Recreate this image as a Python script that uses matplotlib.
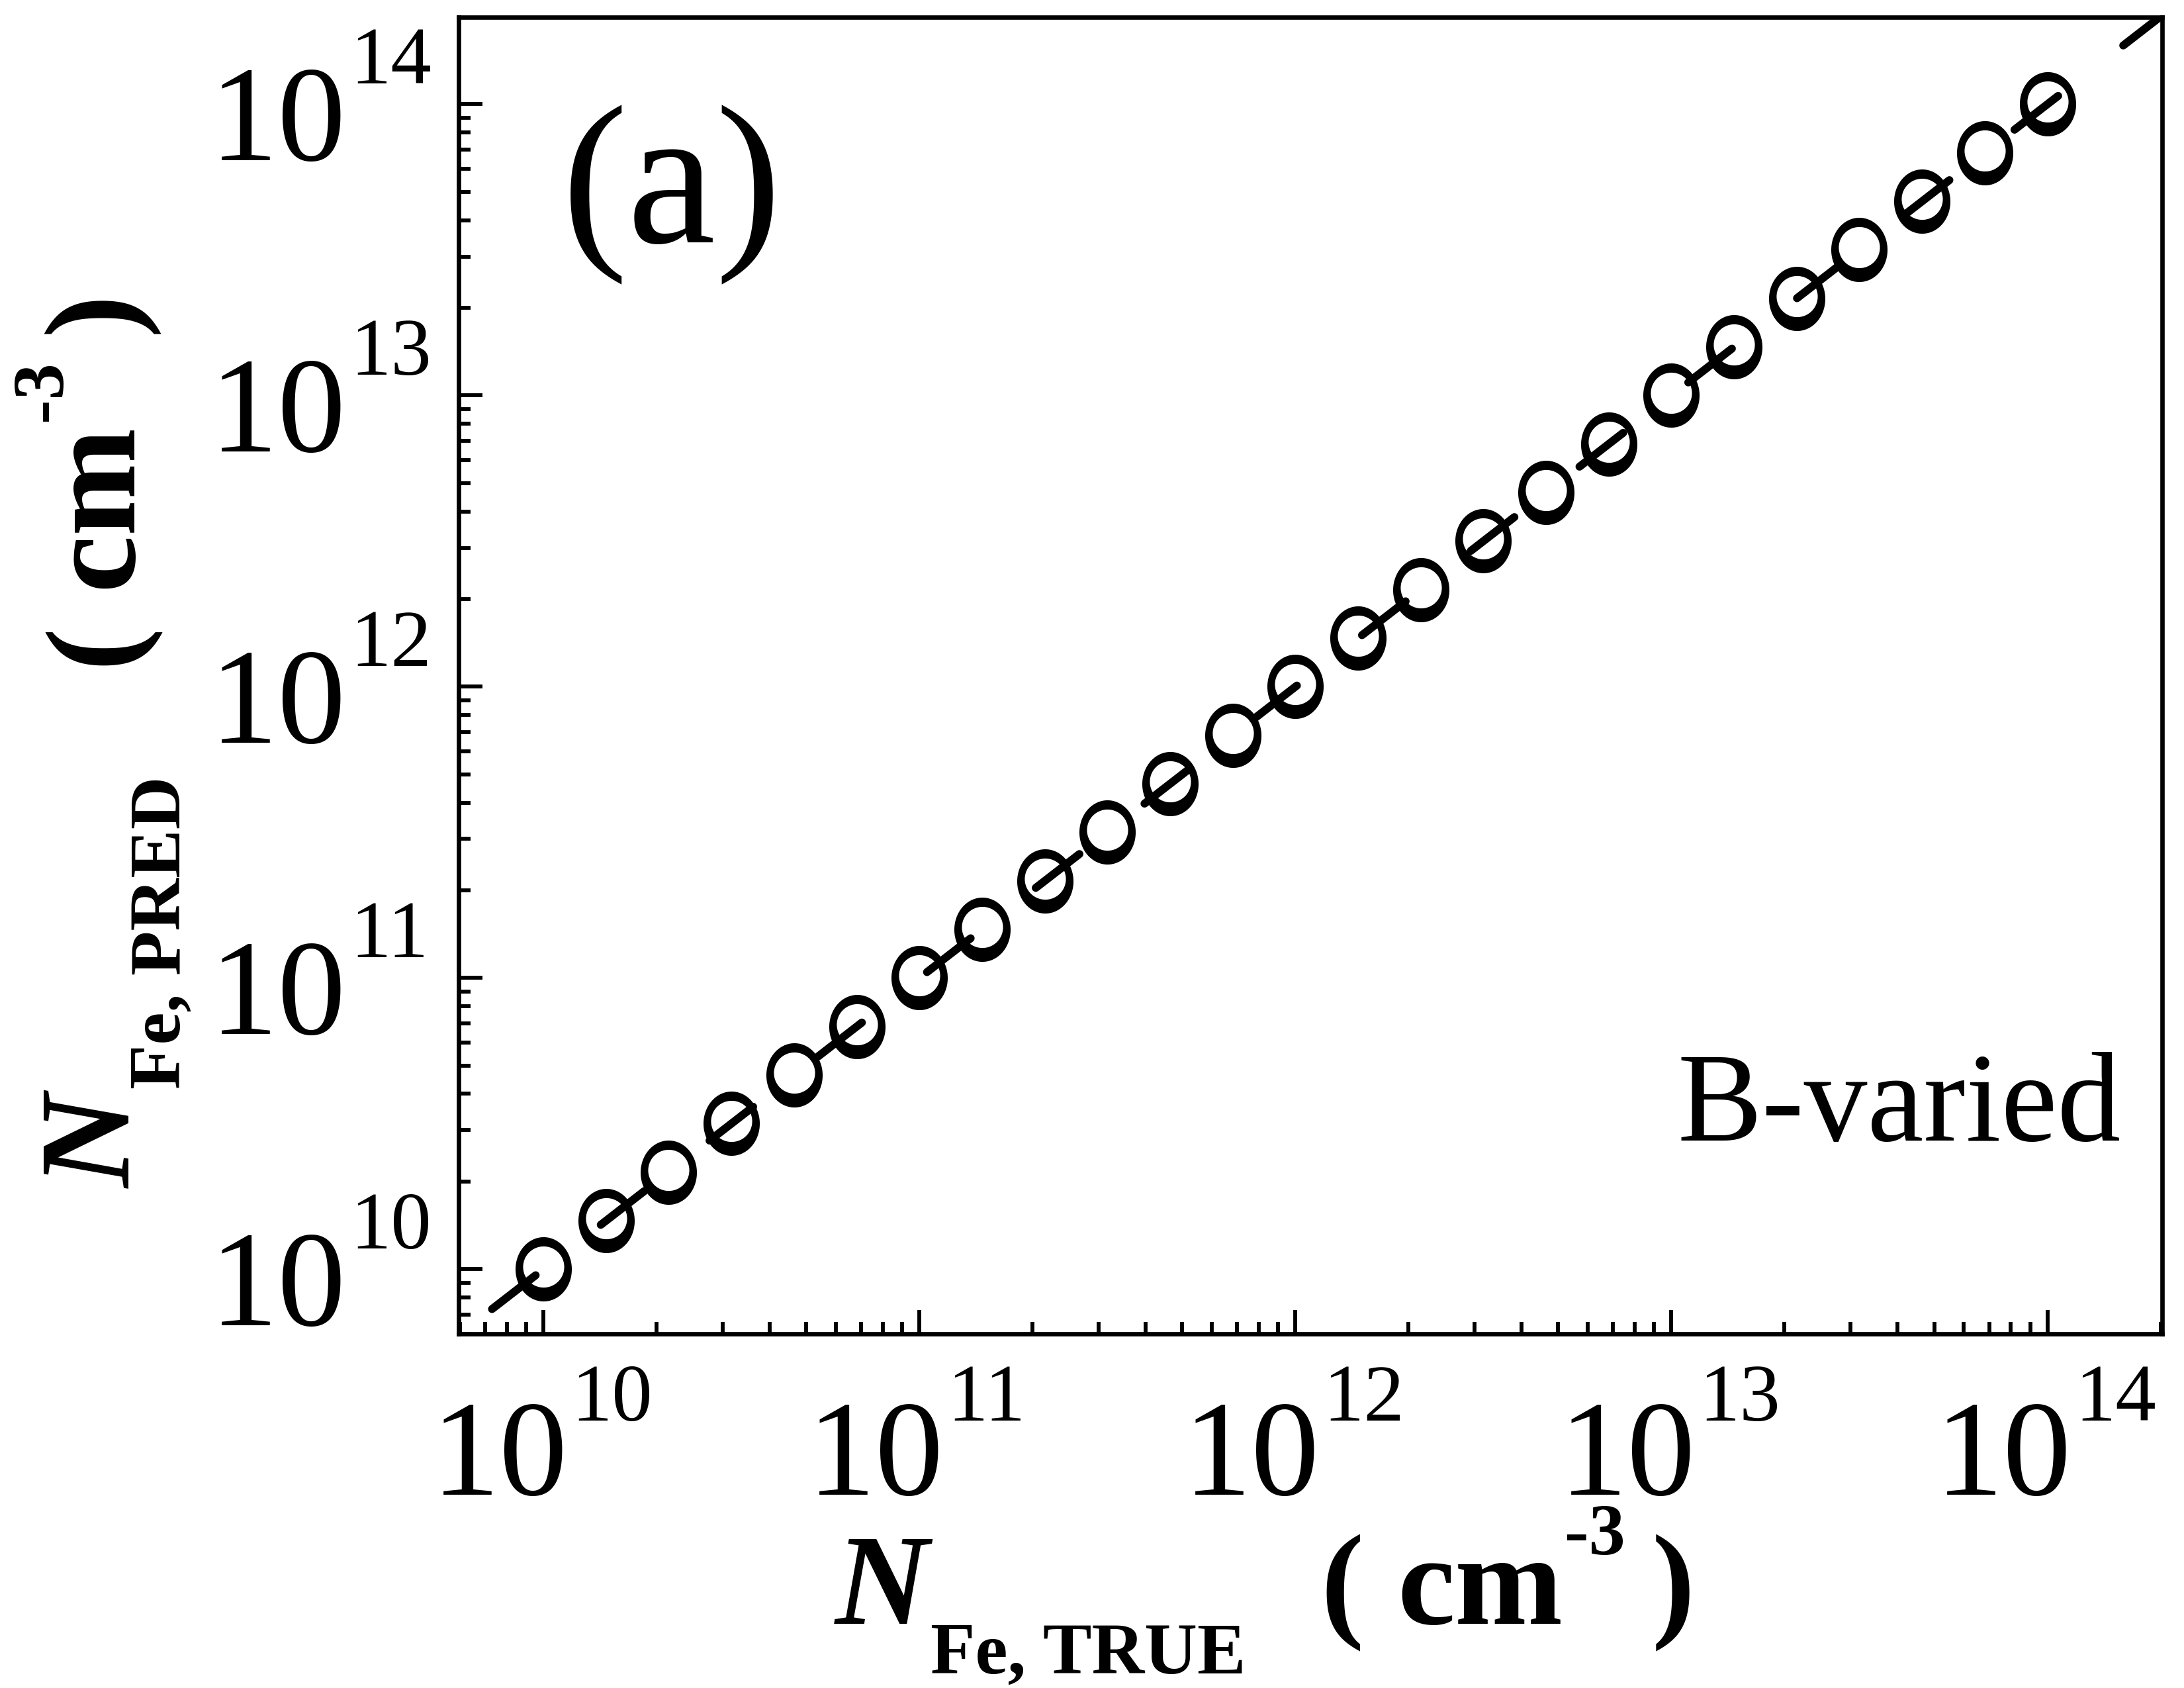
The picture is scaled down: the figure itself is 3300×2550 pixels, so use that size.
import numpy as np
import matplotlib
matplotlib.use('Agg')
import matplotlib.pyplot as plt
from matplotlib.path import Path
from matplotlib.transforms import blended_transform_factory, ScaledTranslation
from matplotlib.ticker import FixedLocator, LogLocator, NullFormatter

# ---------------- data ----------------
n_true = [1.0e10, 1.468e10, 2.154e10, 3.162e10, 4.642e10, 6.813e10,
          1.0e11, 1.468e11, 2.154e11, 3.162e11, 4.642e11, 6.813e11,
          1.0e12, 1.468e12, 2.154e12, 3.162e12, 4.642e12, 6.813e12,
          1.0e13, 1.468e13, 2.154e13, 3.162e13, 4.642e13, 6.813e13,
          1.0e14]
n_pred = [1.0e10, 1.468e10, 2.154e10, 3.162e10, 4.642e10, 6.813e10,
          1.0e11, 1.468e11, 2.154e11, 3.162e11, 4.642e11, 6.813e11,
          1.0e12, 1.468e12, 2.154e12, 3.162e12, 4.642e12, 6.813e12,
          1.0e13, 1.468e13, 2.154e13, 3.162e13, 4.642e13, 6.813e13,
          1.0e14]
line_x = [7.3e9, 2.0e14]
line_y = [7.3e9, 2.0e14]
x_major = [1e10, 1e11, 1e12, 1e13, 1e14]
y_major = [1e10, 1e11, 1e12, 1e13, 1e14]
tick_exponents = ['10', '11', '12', '13', '14']

FONT = 'Liberation Serif'
W, H, DPI = 3300, 2550, 300

fig = plt.figure(figsize=(W / DPI, H / DPI), dpi=DPI)
ax = fig.add_axes([693 / W, 1 - 2015 / H, (3267 - 693) / W, (2015 - 26) / H])
ax.set_xscale('log')
ax.set_yscale('log')
ax.set_xlim(5.95e9, 2.02e14)
ax.set_ylim(6.0e9, 1.99e14)

# ring marker (slightly tall outer ellipse, inner hole shifted up)
th = np.linspace(0, 2 * np.pi, 121)
outer = np.column_stack([0.438 * np.cos(th), 0.5 * np.sin(th)])
inner = np.column_stack([0.32 * np.cos(-th), 0.036 + 0.32 * np.sin(-th)])
codes = [Path.MOVETO] + [Path.LINETO] * (len(th) - 2) + [Path.CLOSEPOLY]
ring = Path(np.vstack([outer, inner]), codes + codes)

ax.plot(line_x, line_y, color='black', lw=2.9, linestyle=(0, (6.9, 10.3)),
        dash_capstyle='round', solid_capstyle='round', zorder=2)
ax.plot(n_true, n_pred, linestyle='none', marker=ring, markersize=23.3,
        markerfacecolor='black', markeredgecolor='black', markeredgewidth=0,
        zorder=3)

for s in ax.spines.values():
    s.set_linewidth(1.6)
ax.xaxis.set_major_locator(FixedLocator(x_major))
ax.yaxis.set_major_locator(FixedLocator(y_major))
ax.xaxis.set_minor_locator(LogLocator(base=10, subs=range(2, 10), numticks=50))
ax.yaxis.set_minor_locator(LogLocator(base=10, subs=range(2, 10), numticks=50))
ax.xaxis.set_minor_formatter(NullFormatter())
ax.yaxis.set_minor_formatter(NullFormatter())
ax.tick_params(which='both', direction='in', top=False, right=False,
               labelbottom=False, labelleft=False, width=1.4)
ax.tick_params(which='major', length=8.6)
ax.tick_params(which='minor', length=4.3)

# tick labels: "10" with raised exponent
px = 1.0 / DPI
tx = blended_transform_factory(ax.transData, ax.transAxes)
ty = blended_transform_factory(ax.transAxes, ax.transData)
for v, e in zip(x_major, tick_exponents):
    ax.text(v, 0, '10', transform=tx + ScaledTranslation(37 * px, -243 * px, fig.dpi_scale_trans),
            ha='right', va='baseline', fontsize=49.5, family=FONT, clip_on=False)
    ax.text(v, 0, e, transform=tx + ScaledTranslation(42 * px, -131 * px, fig.dpi_scale_trans),
            ha='left', va='baseline', fontsize=29.5, family=FONT, clip_on=False)
for v, e in zip(y_major, tick_exponents):
    ax.text(0, v, '10', transform=ty + ScaledTranslation(-170 * px, -85 * px, fig.dpi_scale_trans),
            ha='right', va='baseline', fontsize=49.5, family=FONT, clip_on=False)
    ax.text(0, v, e, transform=ty + ScaledTranslation(-164 * px, 31 * px, fig.dpi_scale_trans),
            ha='left', va='baseline', fontsize=29.5, family=FONT, clip_on=False)


def ftext(x, y, s, size, rot=0, style='normal', weight='bold'):
    fig.text(x / W, 1 - y / H, s, fontsize=size, family=FONT, fontweight=weight,
             fontstyle=style, rotation=rot, rotation_mode='anchor',
             ha='left', va='baseline')


# x axis label pieces
ftext(1262, 2453, 'N', 47, style='italic')
ftext(1406, 2528, 'Fe, TRUE', 26.5)
ftext(1995, 2453, '(', 47)
ftext(2111, 2453, 'cm', 47)
ftext(2364, 2348, '-3', 26.5)
ftext(2496, 2453, ')', 47)

# y axis label pieces (rotated)
ftext(197, 1795, 'N', 47, rot=90, style='italic')
ftext(272, 1645, 'Fe, PRED', 26.5, rot=90)
ftext(197, 1005, '(', 47, rot=90)
ftext(197, 889, 'cm', 47, rot=90)
ftext(92, 636, '-3', 26.5, rot=90)
ftext(197, 504, ')', 47, rot=90)

# annotations
ftext(849, 366, '(a)', 72, weight='normal')
fig.text(3205 / W, 1 - 1723 / H, 'B-varied', fontsize=46, family=FONT,
         ha='right', va='baseline')

fig.savefig('out.png', dpi=DPI)
